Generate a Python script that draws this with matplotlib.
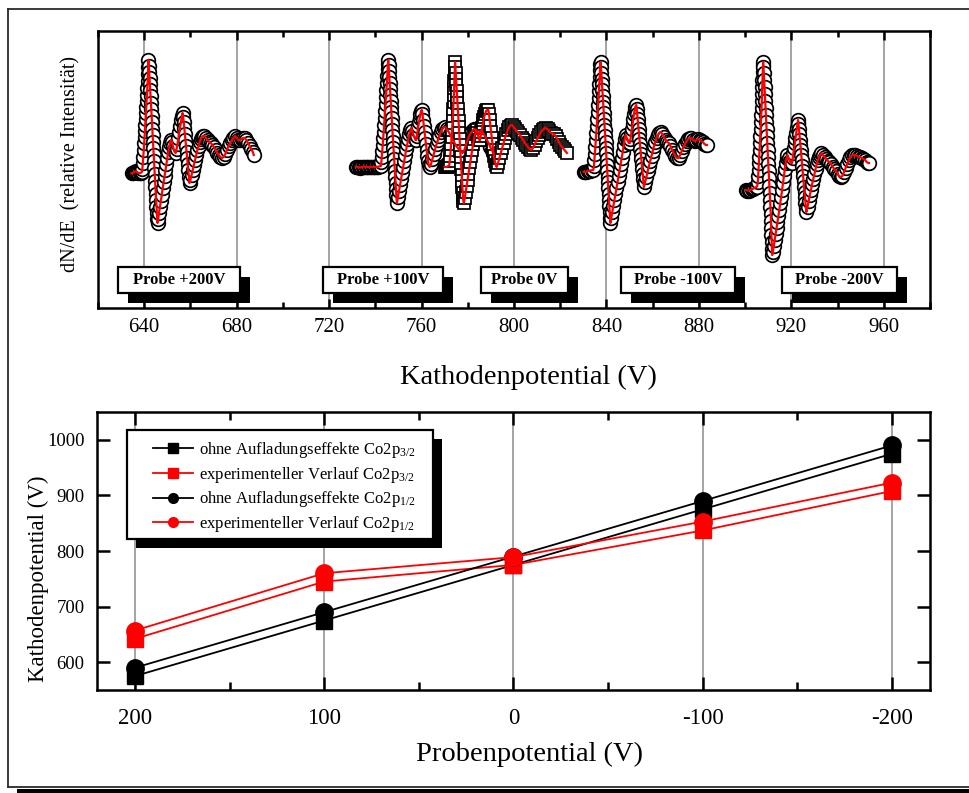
import matplotlib
matplotlib.use("Agg")
import matplotlib.pyplot as plt
from matplotlib.patches import Rectangle
from matplotlib.lines import Line2D
from matplotlib.ticker import MultipleLocator

plt.rcParams['font.family'] = ['Liberation Serif', 'DejaVu Serif']
plt.rcParams['mathtext.fontset'] = 'custom'
plt.rcParams['mathtext.rm'] = 'Liberation Serif'
plt.rcParams['mathtext.it'] = 'Liberation Serif:italic'
plt.rcParams['mathtext.bf'] = 'Liberation Serif:bold'
plt.rcParams['axes.unicode_minus'] = False

# ---------------- Co2p Auger spectra: (kinetic energy V, dN/dE in relative units) ----------------
spec_p200 = [
    (634.5, 134.7), (635.0, 135), (635.5, 135.6), (636.0, 136.5), (636.5, 136.6), (637.0, 136), (637.5, 135),
    (638.0, 134.8), (638.5, 135.2), (639.0, 136), (639.2, 139), (639.4, 145), (639.6, 151), (639.8, 158),
    (640.0, 165), (640.15, 171), (640.3, 177), (640.45, 183), (640.6, 189), (640.75, 195), (640.9, 201),
    (641.05, 207), (641.2, 213), (641.35, 220), (641.5, 227), (641.6, 234), (641.7, 241), (641.8, 248),
    (642.0, 242), (642.15, 236), (642.3, 230), (642.45, 224), (642.6, 218), (642.75, 212), (642.9, 205),
    (643.05, 199), (643.2, 192), (643.35, 186), (643.5, 179), (643.65, 173), (643.8, 166), (643.95, 160),
    (644.1, 153), (644.25, 147), (644.4, 140), (644.55, 134), (644.7, 127), (644.85, 121), (645.0, 114),
    (645.15, 108), (645.3, 101), (645.45, 95), (645.6, 89), (645.75, 85), (646.0, 89), (646.4, 95),
    (646.8, 101), (647.2, 107), (647.6, 113), (648.0, 120), (648.4, 126), (648.8, 132), (649.2, 138),
    (649.6, 144), (650.0, 150), (650.4, 156), (650.8, 161), (651.2, 165), (651.6, 168), (652.0, 166),
    (652.4, 162), (652.8, 158), (653.2, 156), (653.6, 155), (654.0, 159), (654.4, 164), (654.8, 170),
    (655.2, 176), (655.6, 182), (656.0, 188), (656.3, 192), (656.6, 195), (656.85, 191), (657.1, 186),
    (657.35, 180), (657.6, 174), (657.85, 168), (658.1, 162), (658.35, 156), (658.6, 150), (658.85, 144),
    (659.1, 138), (659.35, 131), (659.6, 125), (660.0, 128), (660.5, 133), (661.0, 138), (661.5, 143),
    (662.0, 148), (662.5, 153), (663.0, 158), (663.5, 162), (664.0, 166), (664.5, 169), (665.0, 171),
    (665.5, 172), (666.0, 172), (666.7, 170), (667.4, 168), (668.1, 166), (668.8, 165), (669.5, 163),
    (670.2, 161), (670.9, 158), (671.6, 155), (672.3, 153), (673.0, 151), (673.7, 150), (674.4, 151),
    (675.1, 154), (675.8, 158), (676.5, 162), (677.2, 165), (677.9, 168), (678.6, 170), (679.3, 172),
    (680.0, 170), (680.7, 168), (681.4, 168), (682.1, 169), (682.8, 170), (683.5, 170), (684.2, 168),
    (684.9, 165), (685.6, 162), (686.3, 159), (687.0, 156), (687.4, 153),
]

spec_p100 = [
    (731.6, 141.3), (732.2, 141), (732.8, 140.6), (733.4, 140.5), (734.0, 140.8), (734.6, 141), (735.2, 141.5),
    (735.8, 141.3), (736.4, 141), (737.0, 140.8), (737.6, 140.8), (738.2, 141.2), (738.8, 141.2), (739.4, 141),
    (740.0, 141), (740.6, 141), (741.2, 141.3), (741.8, 141.6), (742.4, 142), (742.6, 146), (742.8, 151),
    (743.0, 157), (743.2, 163), (743.4, 170), (743.6, 176), (743.8, 183), (744.0, 190), (744.2, 197),
    (744.4, 204), (744.6, 211), (744.8, 218), (745.0, 225), (745.15, 232), (745.3, 239), (745.45, 244),
    (745.6, 248), (745.75, 243), (745.9, 237), (746.05, 231), (746.2, 225), (746.35, 219), (746.5, 213),
    (746.65, 207), (746.8, 201), (746.95, 196), (747.1, 190), (747.25, 184), (747.4, 178), (747.55, 172),
    (747.7, 166), (747.85, 160), (748.0, 155), (748.15, 149), (748.3, 143), (748.45, 137), (748.6, 131),
    (748.75, 125), (748.9, 119), (749.05, 113), (749.2, 108), (749.35, 105), (749.8, 111), (750.25, 117),
    (750.7, 123), (751.15, 129), (751.6, 135), (752.05, 141), (752.5, 147), (752.95, 153), (753.4, 159),
    (753.85, 164), (754.3, 169), (754.75, 174), (755.2, 178), (755.5, 180), (756.0, 177), (756.5, 173),
    (757.0, 170), (757.4, 168), (757.7, 168), (758.0, 172), (758.3, 177), (758.6, 182), (758.9, 186),
    (759.2, 190), (759.5, 194), (759.8, 197), (760.1, 198), (760.4, 194), (760.7, 188), (761.0, 182),
    (761.3, 176), (761.6, 170), (761.9, 164), (762.2, 158), (762.5, 152), (762.8, 147), (763.1, 143),
    (763.5, 141), (764.1, 144), (764.7, 149), (765.3, 154), (765.9, 159), (766.5, 164), (767.1, 168),
    (767.7, 172), (768.3, 176), (768.9, 179), (769.5, 180.5), (770.1, 181), (770.8, 179), (771.5, 177),
    (772.2, 174), (772.9, 171), (773.6, 168), (774.3, 165), (775.0, 162), (775.7, 160), (776.4, 158),
    (777.1, 156), (777.8, 155), (778.5, 158), (779.2, 163), (779.9, 168), (780.6, 172), (781.3, 175),
    (782.0, 177), (782.7, 179), (783.4, 178), (784.1, 176), (784.8, 175), (785.5, 177), (786.2, 176),
    (786.9, 174), (787.6, 171), (788.3, 168), (789.0, 165), (789.7, 161), (790.4, 158), (791.1, 155),
]

spec_0 = [
    (770.0, 141), (770.4, 141), (770.8, 141.2), (771.2, 141.5), (771.6, 142), (772.0, 143), (772.2, 147),
    (772.4, 152), (772.6, 158), (772.8, 164), (773.0, 171), (773.2, 178), (773.4, 185), (773.55, 192),
    (773.7, 199), (773.85, 206), (774.0, 213), (774.1, 220), (774.2, 227), (774.3, 234), (774.4, 241),
    (774.5, 246), (774.65, 241), (774.8, 235), (774.95, 229), (775.1, 223), (775.25, 217), (775.4, 211),
    (775.55, 205), (775.7, 199), (775.85, 193), (776.0, 187), (776.15, 181), (776.3, 175), (776.45, 169),
    (776.6, 163), (776.75, 157), (776.9, 151), (777.05, 145), (777.2, 139), (777.35, 133), (777.5, 127),
    (777.65, 121), (777.8, 115), (777.95, 110), (778.1, 107), (778.3, 105), (778.7, 110), (779.1, 116),
    (779.5, 122), (779.9, 128), (780.3, 134), (780.7, 140), (781.1, 146), (781.5, 152), (781.9, 158),
    (782.3, 164), (782.7, 169), (783.1, 174), (783.5, 177), (783.8, 178), (784.2, 175), (784.6, 171),
    (785.0, 168), (785.3, 168), (785.6, 172), (785.9, 176), (786.2, 180), (786.5, 184), (786.8, 188),
    (787.1, 191), (787.5, 194), (787.9, 197), (788.4, 198), (788.9, 198), (789.2, 194), (789.5, 188),
    (789.8, 182), (790.1, 176), (790.4, 170), (790.7, 164), (791.0, 158), (791.3, 152), (791.7, 147),
    (792.1, 143), (792.5, 141), (793.1, 145), (793.7, 150), (794.3, 155), (794.9, 160), (795.5, 165),
    (796.1, 170), (796.7, 174), (797.3, 178), (797.9, 181), (798.5, 182.5), (799.1, 183), (799.8, 181),
    (800.5, 179), (801.2, 177), (801.9, 175), (802.6, 173), (803.3, 170), (804.0, 168), (804.7, 165),
    (805.4, 163), (806.1, 161), (806.8, 159), (807.5, 158), (808.2, 160), (808.9, 163), (809.6, 167),
    (810.3, 170), (811.0, 173), (811.7, 176), (812.4, 178), (813.1, 179.5), (813.8, 180), (814.5, 179),
    (815.2, 177), (815.9, 175), (816.6, 174.5), (817.3, 174), (818.0, 172), (818.7, 169), (819.4, 166),
    (820.1, 163), (820.8, 161), (821.5, 159), (822.2, 157), (822.9, 155),
]

spec_m100 = [
    (830.1, 136.3), (830.7, 136), (831.3, 136.2), (831.9, 136.8), (832.5, 137.2), (833.1, 137.5),
    (833.7, 137.8), (834.3, 138), (834.6, 142), (834.8, 148), (835.0, 154), (835.2, 161), (835.4, 168),
    (835.6, 175), (835.8, 182), (836.0, 189), (836.2, 196), (836.4, 203), (836.6, 210), (836.75, 217),
    (836.9, 224), (837.05, 231), (837.2, 238), (837.35, 244), (837.5, 246), (837.65, 241), (837.8, 235),
    (837.95, 229), (838.1, 224), (838.25, 218), (838.4, 212), (838.55, 206), (838.7, 201), (838.85, 195),
    (839.0, 189), (839.15, 183), (839.3, 178), (839.45, 172), (839.6, 166), (839.75, 160), (839.9, 155),
    (840.05, 149), (840.2, 143), (840.35, 137), (840.5, 131), (840.65, 126), (840.8, 120), (840.95, 114),
    (841.1, 108), (841.25, 102), (841.4, 96), (841.55, 90), (841.7, 85), (842.1, 90), (842.55, 96),
    (843.0, 102), (843.45, 108), (843.9, 114), (844.35, 120), (844.8, 126), (845.25, 132), (845.7, 138),
    (846.15, 144), (846.6, 150), (847.05, 156), (847.5, 163), (847.9, 169), (848.3, 173), (848.8, 170),
    (849.3, 167), (849.7, 165), (850.1, 165), (850.4, 169), (850.7, 174), (851.0, 179), (851.3, 184),
    (851.6, 189), (851.9, 194), (852.2, 198), (852.5, 201), (852.9, 203), (853.1, 199), (853.3, 194),
    (853.5, 189), (853.7, 184), (853.9, 179), (854.1, 174), (854.3, 169), (854.5, 164), (854.7, 159),
    (854.9, 154), (855.1, 149), (855.3, 144), (855.5, 139), (855.7, 134), (855.9, 129), (856.05, 125),
    (856.2, 121), (856.75, 126), (857.3, 131), (857.85, 137), (858.4, 142), (858.95, 147), (859.5, 152),
    (860.05, 157), (860.6, 162), (861.15, 166), (861.7, 170), (862.25, 173), (862.8, 175), (863.5, 176),
    (864.2, 174), (864.9, 171), (865.6, 168), (866.3, 166), (867.0, 165), (867.7, 162), (868.4, 158),
    (869.1, 155), (869.8, 152), (870.5, 150), (871.2, 150), (871.9, 153), (872.6, 157), (873.3, 161),
    (874.0, 164), (874.7, 167), (875.4, 169), (876.1, 170), (876.8, 170), (877.5, 168), (878.2, 167),
    (878.9, 168), (879.6, 169), (880.3, 168), (881.0, 167), (881.7, 166), (882.4, 164), (883.1, 163),
    (883.5, 163),
]

spec_m200 = [
    (900.4, 118), (901.0, 117.5), (901.6, 117.5), (902.2, 118), (902.8, 118.6), (903.4, 119.2), (904.0, 120),
    (904.6, 120.8), (905.2, 121.5), (905.5, 126), (905.65, 132), (905.8, 138), (905.95, 145), (906.1, 151),
    (906.25, 158), (906.4, 165), (906.55, 172), (906.7, 179), (906.85, 186), (907.0, 193), (907.1, 200),
    (907.2, 207), (907.3, 214), (907.4, 221), (907.5, 228), (907.6, 236), (907.7, 243), (907.8, 246),
    (907.95, 241), (908.1, 235), (908.25, 228), (908.4, 221), (908.55, 214), (908.7, 207), (908.85, 200),
    (909.0, 193), (909.15, 186), (909.3, 179), (909.45, 172), (909.6, 165), (909.75, 158), (909.9, 151),
    (910.05, 144), (910.2, 137), (910.35, 130), (910.5, 122), (910.65, 115), (910.8, 108), (910.95, 101),
    (911.1, 94), (911.2, 87), (911.3, 80), (911.4, 73), (911.5, 66), (911.6, 59), (911.7, 53), (912.0, 56),
    (912.4, 62), (912.8, 68), (913.2, 74), (913.6, 80), (914.0, 86), (914.4, 92), (914.8, 98), (915.2, 105),
    (915.6, 111), (916.0, 118), (916.4, 125), (916.8, 132), (917.2, 139), (917.6, 145), (918.0, 150),
    (918.3, 153), (918.8, 150), (919.3, 147), (919.8, 145), (920.3, 145), (920.6, 150), (920.9, 155),
    (921.2, 160), (921.5, 165), (921.8, 170), (922.1, 175), (922.4, 180), (922.7, 185), (922.9, 188),
    (923.1, 184), (923.3, 179), (923.5, 174), (923.7, 168), (923.9, 163), (924.1, 158), (924.3, 153),
    (924.5, 148), (924.7, 142), (924.9, 137), (925.1, 132), (925.3, 127), (925.5, 121), (925.7, 116),
    (925.9, 111), (926.1, 105), (926.3, 100), (926.5, 96), (927.0, 101), (927.5, 107), (928.0, 113),
    (928.5, 118), (929.0, 124), (929.5, 129), (930.0, 134), (930.5, 139), (931.0, 144), (931.5, 148),
    (932.0, 151), (932.5, 153.5), (933.0, 155), (933.7, 153), (934.4, 151), (935.1, 149), (935.8, 147),
    (936.5, 146), (937.2, 144), (937.9, 141), (938.6, 139), (939.3, 137), (940.0, 134), (940.7, 132),
    (941.4, 131), (942.1, 132), (942.8, 136), (943.5, 140), (944.2, 144), (944.9, 148), (945.6, 151),
    (946.3, 153), (947.0, 153), (947.7, 153), (948.4, 152), (949.1, 151), (949.8, 151), (950.5, 150),
    (951.2, 149), (951.9, 148), (952.6, 146), (953.3, 145), (953.6, 145),
]

spectra = [(spec_p200, 'o'), (spec_p100, 'o'), (spec_0, 's'), (spec_m100, 'o'), (spec_m200, 'o')]

probe_labels = ['Probe +200V', 'Probe +100V', 'Probe 0V', 'Probe -100V', 'Probe -200V']
# label box extents along the energy axis (left, right)
probe_boxes = [(628.7, 681.4), (717.4, 769.3), (785.7, 823.4), (846.3, 895.6), (916.0, 965.7)]

# ---------------- Cathode potential versus sample potential ----------------
probe_potential = [200, 100, 0, -100, -200]
ohne_2p32 = [575, 675, 775, 875, 975]
exp_2p32 = [642, 745, 775, 837, 908]
ohne_2p12 = [590, 690, 790, 890, 990]
exp_2p12 = [657, 760, 789, 853, 923]

W, H = 970, 793
fig = plt.figure(figsize=(W / 100, H / 100), dpi=100)
fig.patch.set_facecolor('white')


def fx(px):
    return px / W


def fy(py):
    return 1 - py / H


# outer frame with drop shadow
frame_kw = dict(color='#2a2a2a', lw=1.3, transform=fig.transFigure)
fig.add_artist(Line2D([fx(8), fx(975)], [fy(9), fy(9)], **frame_kw))
fig.add_artist(Line2D([fx(8), fx(8)], [fy(9), fy(787)], **frame_kw))
fig.add_artist(Line2D([fx(8), fx(975)], [fy(787), fy(787)], **frame_kw))
fig.add_artist(Rectangle((fx(17), fy(796)), fx(960), fy(789) - fy(796),
                         transform=fig.transFigure, color='black', lw=0))

spine_w = 1.8
grid_c = '#8c8c8c'

# ---------------- upper panel ----------------
ax1 = fig.add_axes([fx(98), fy(308), fx(832), 277 / H])
ax1.set_xlim(620, 980)
ax1.set_ylim(0, 277)
ax1.xaxis.set_major_locator(MultipleLocator(40))
ax1.xaxis.set_minor_locator(MultipleLocator(20))
ax1.tick_params(axis='x', which='both', direction='in', top=True, bottom=True,
                width=spine_w, labelsize=15, pad=7)
ax1.tick_params(axis='x', which='major', length=6.5)
ax1.tick_params(axis='x', which='minor', length=4.5)
ax1.tick_params(axis='y', left=False, right=False, labelleft=False)
for s in ax1.spines.values():
    s.set_linewidth(spine_w)
ax1.grid(axis='x', which='major', color=grid_c, lw=1.1)
ax1.set_axisbelow(True)

for spec, m in spectra:
    E = [p[0] for p in spec]
    I = [p[1] for p in spec]
    ax1.plot(E, I, ls='none', marker=m, ms=9.8 if m == 'o' else 8.8, mfc='white', mec='black',
             mew=1.25, zorder=3)
    ax1.plot(E, I, color='red', lw=1.6, zorder=4)

box_bottom, box_top = 15, 41
shadow_dx, shadow_dy = 4.3, 10
for lab, (x0, x1) in zip(probe_labels, probe_boxes):
    ax1.add_patch(Rectangle((x0 + shadow_dx, box_bottom - shadow_dy), x1 - x0, box_top - box_bottom,
                            facecolor='black', edgecolor='black', lw=0, zorder=6))
    ax1.add_patch(Rectangle((x0, box_bottom), x1 - x0, box_top - box_bottom,
                            facecolor='white', edgecolor='black', lw=1.6, zorder=7))
    ax1.text((x0 + x1) / 2, (box_bottom + box_top) / 2, lab, ha='center', va='center',
             fontsize=12, fontweight='bold', zorder=8)

ax1.set_xlabel('Kathodenpotential (V)', fontsize=20.5)
ax1.xaxis.set_label_coords(0.517, -0.205)
ax1.set_ylabel('dN/dE  (relative Intensität)', fontsize=14.5)
ax1.yaxis.set_label_coords(-0.021, 0.52)

# ---------------- lower panel ----------------
ax2 = fig.add_axes([fx(97), fy(690), fx(833), 278 / H])
ax2.set_xlim(220, -220)
ax2.set_ylim(550, 1050)
ax2.xaxis.set_major_locator(MultipleLocator(100))
ax2.xaxis.set_minor_locator(MultipleLocator(50))
ax2.yaxis.set_major_locator(MultipleLocator(100))
ax2.tick_params(axis='both', which='both', direction='in', top=True, right=True, width=spine_w)
ax2.tick_params(axis='both', which='major', length=9.5)
ax2.tick_params(axis='both', which='minor', length=5.5)
ax2.tick_params(axis='x', labelsize=16.5, pad=13)
ax2.tick_params(axis='y', labelsize=13.5, pad=9)
for s in ax2.spines.values():
    s.set_linewidth(spine_w)
ax2.grid(axis='x', which='major', color=grid_c, lw=1.1)
ax2.set_axisbelow(True)

series = [
    (ohne_2p32, 'black', 's', 11, r'ohne Aufladungseffekte Co2p$_{\mathregular{3/2}}$'),
    (exp_2p32, 'red', 's', 11, r'experimenteller Verlauf Co2p$_{\mathregular{3/2}}$'),
    (ohne_2p12, 'black', 'o', 12.5, r'ohne Aufladungseffekte Co2p$_{\mathregular{1/2}}$'),
    (exp_2p12, 'red', 'o', 12.5, r'experimenteller Verlauf Co2p$_{\mathregular{1/2}}$'),
]
handles = []
for vals, c, m, ms, lab in series:
    ax2.plot(probe_potential, vals, color=c, lw=1.3, marker=m, ms=ms, mfc=c, mec=c, zorder=3)
    handles.append(Line2D([], [], color=c, lw=1.3, marker=m, ms=7, mfc=c, mec=c, label=lab))

# legend frame with drop shadow
lx0, lx1 = (127 - 97) / 833, (433 - 97) / 833
ly0, ly1 = (690 - 539) / 278, (690 - 430) / 278
ax2.add_patch(Rectangle((lx0 + 9 / 833, ly0 - 9 / 278), lx1 - lx0, ly1 - ly0, transform=ax2.transAxes,
                        facecolor='black', lw=0, zorder=4.5, clip_on=False))
ax2.add_patch(Rectangle((lx0, ly0), lx1 - lx0, ly1 - ly0, transform=ax2.transAxes,
                        facecolor='white', edgecolor='black', lw=1.6, zorder=4.6, clip_on=False))
leg = ax2.legend(handles=handles, loc='upper left', bbox_to_anchor=((153 - 97) / 833, (690 - 440) / 278),
                 frameon=False, fontsize=12, handlelength=2.4, handletextpad=0.35,
                 labelspacing=0.28, borderpad=0, borderaxespad=0)
leg.set_zorder(5)

ax2.set_xlabel('Probenpotential (V)', fontsize=20.5)
ax2.xaxis.set_label_coords(0.519, -0.185)
ax2.set_ylabel('Kathodenpotential (V)', fontsize=16.5)
ax2.yaxis.set_label_coords(-0.058, 0.40)

fig.savefig('out.png', dpi=100, facecolor='white')
